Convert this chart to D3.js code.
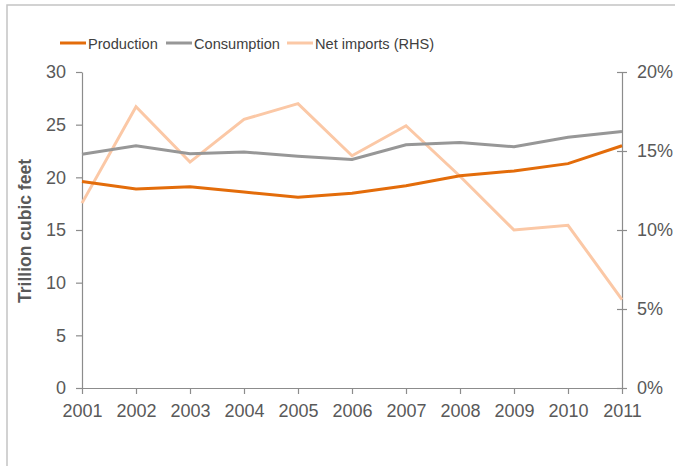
<!DOCTYPE html>
<html><head><meta charset="utf-8">
<script src="https://cdn.jsdelivr.net/npm/d3@7"></script>
<style>body{margin:0;background:#fff}svg{display:block;font-family:"Liberation Sans",Arial,sans-serif}</style>
</head><body>
<svg id="c" width="675" height="466"></svg>
<script>
const years = [2001,2002,2003,2004,2005,2006,2007,2008,2009,2010,2011];
const production = [19.6,18.9,19.1,18.6,18.1,18.5,19.2,20.15,20.6,21.3,23.0];
const consumption = [22.2,23.0,22.25,22.4,22.0,21.7,23.1,23.3,22.9,23.8,24.35];
const netImports = [11.7,17.8,14.3,17.0,18.0,14.7,16.6,13.4,10.0,10.3,5.6];
const leftTicks = [0,5,10,15,20,25,30];
const rightTicks = [0,5,10,15,20];
const seriesNames = ["Production","Consumption","Net imports (RHS)"];
const colors = ["#E36C0A","#979797","#FBC8A6"];

const svg = d3.select("#c");
const axisColor = "#8c8c8c", textColor = "#595959";
// frame
svg.append("path").attr("d","M7,466 V5 H675").attr("fill","none").attr("stroke","#c4c4c4").attr("stroke-width",1.5);

const x = d3.scaleLinear().domain([2001,2011]).range([82,622]);
const yL = d3.scaleLinear().domain([0,30]).range([388,72]);
const yR = d3.scaleLinear().domain([0,20]).range([388,72]);

const gx = svg.append("g").attr("transform","translate(0,388)")
  .call(d3.axisBottom(x).tickValues(years).tickFormat(d3.format("d")).tickSize(6).tickSizeOuter(0).tickPadding(10));
const gl = svg.append("g").attr("transform","translate(82,0)")
  .call(d3.axisLeft(yL).tickValues(leftTicks).tickSize(6).tickSizeOuter(0).tickPadding(10));
const gr = svg.append("g").attr("transform","translate(622,0)")
  .call(d3.axisRight(yR).tickValues(rightTicks).tickFormat(d=>d+"%").tickSize(5).tickSizeOuter(0).tickPadding(10));
gr.selectAll(".tick line").attr("x1",-5).attr("x2",5);
[gx,gl,gr].forEach(g=>{
  g.select(".domain").attr("stroke",axisColor).attr("stroke-width",1.2);
  g.selectAll(".tick line").attr("stroke",axisColor).attr("stroke-width",1.2);
  g.selectAll("text").attr("fill",textColor).style("font-size","18px");
});

svg.append("text").attr("transform","translate(31,231) rotate(-90)").attr("text-anchor","middle")
  .style("font-size","17.5px").style("font-weight","bold").attr("fill","#595959").text("Trillion cubic feet");

const lineL = d3.line().x((d,i)=>x(years[i])).y(d=>yL(d));
const lineR = d3.line().x((d,i)=>x(years[i])).y(d=>yR(d));
svg.append("path").datum(netImports).attr("d",lineR).attr("fill","none").attr("stroke",colors[2]).attr("stroke-width",3);
svg.append("path").datum(consumption).attr("d",lineL).attr("fill","none").attr("stroke",colors[1]).attr("stroke-width",3);
svg.append("path").datum(production).attr("d",lineL).attr("fill","none").attr("stroke",colors[0]).attr("stroke-width",3);

// legend
const legX = [60,166,287];
const lg = svg.append("g");
seriesNames.forEach((n,i)=>{
  lg.append("line").attr("x1",legX[i]).attr("x2",legX[i]+26).attr("y1",43).attr("y2",43).attr("stroke",colors[i]).attr("stroke-width",3);
  lg.append("text").attr("x",legX[i]+28).attr("y",48.5).style("font-size","14.6px").attr("fill","#404040").text(n);
});
</script>
</body></html>
